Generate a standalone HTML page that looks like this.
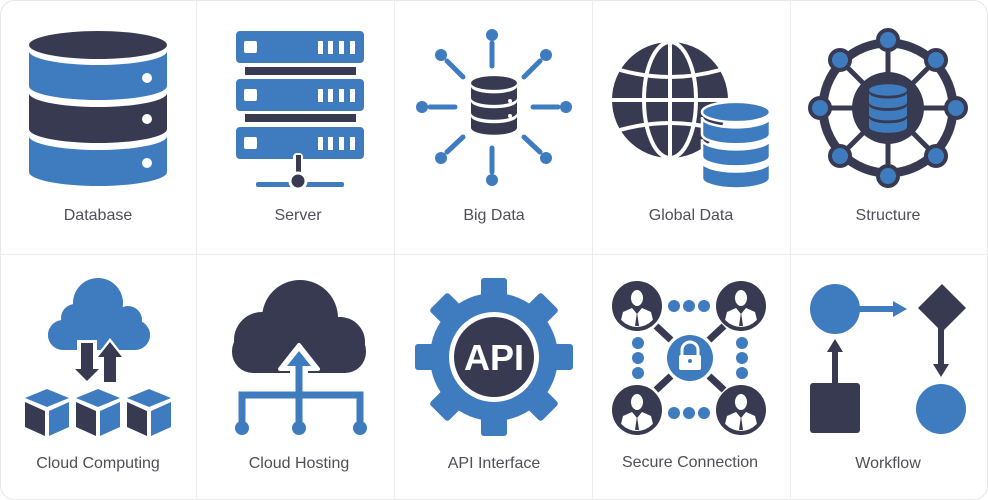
<!DOCTYPE html>
<html><head><meta charset="utf-8"><style>
html,body{margin:0;padding:0;background:#fff;}
svg{display:block;}
text{font-family:"Liberation Sans",sans-serif;font-size:16px;fill:#4f4f5a;text-anchor:middle;}
</style></head><body>
<svg width="988" height="500" viewBox="0 0 988 500" xmlns="http://www.w3.org/2000/svg">
<defs>
<g id="db">
<ellipse cx="0" cy="0" rx="20" ry="6" />
<path d="M-20,3 A20,6 0 0 0 20,3 V13 A20,6 0 0 1 -20,13 Z"/>
<path d="M-20,16 A20,6 0 0 0 20,16 V26 A20,6 0 0 1 -20,26 Z"/>
<path d="M-20,29 A20,6 0 0 0 20,29 V39 A20,6 0 0 1 -20,39 Z"/>
</g>
<g id="person">
<circle r="25" fill="#383a52"/>
<clipPath id="pc"><circle r="21"/></clipPath>
<g clip-path="url(#pc)" fill="#fff">
<ellipse cx="0" cy="-8" rx="6" ry="8"/>
<path d="M-18,22 L-14,6 L-5,2 L0,8 L5,2 L14,6 L18,22 Z"/>
</g>
<path d="M0,6 L-2,20 L2,20 Z" fill="#383a52"/>
</g>
<g id="cube">
<path d="M-22,-13 L0,-22 L22,-13 L0,-4 Z" fill="#3f7cbf"/>
<path d="M-22,-9 L-2,0 L-2,25 L-22,16 Z" fill="#383a52"/>
<path d="M2,0 L22,-9 L22,16 L2,25 Z" fill="#3f7cbf"/>
</g>
</defs>
<rect x="0.5" y="0.5" width="987" height="499" rx="14" fill="#fff" stroke="#e8e8e8"/>
<g stroke="#ececec" stroke-width="1">
<line x1="196.5" y1="0" x2="196.5" y2="500"/><line x1="394.5" y1="0" x2="394.5" y2="500"/>
<line x1="592.5" y1="0" x2="592.5" y2="500"/><line x1="790.5" y1="0" x2="790.5" y2="500"/>
<line x1="0" y1="254.5" x2="988" y2="254.5"/>
</g>

<!-- Database -->
<ellipse cx="98" cy="45" rx="69" ry="14" fill="#383a52"/>
<path d="M29,51 A69,14 0 0 0 167,51 V86 A69,14 0 0 1 29,86 Z" fill="#3f7cbf"/>
<path d="M29,93 A69,14 0 0 0 167,93 V129 A69,14 0 0 1 29,129 Z" fill="#383a52"/>
<path d="M29,136 A69,14 0 0 0 167,136 V172 A69,14 0 0 1 29,172 Z" fill="#3f7cbf"/>
<g fill="#fff"><circle cx="147" cy="78" r="5"/><circle cx="147" cy="119" r="5"/><circle cx="147" cy="163" r="5"/></g>

<!-- Server -->
<g fill="#3f7cbf"><rect x="236" y="31" width="128" height="32" rx="4"/><rect x="236" y="79" width="128" height="32" rx="4"/><rect x="236" y="127" width="128" height="32" rx="4"/></g>
<g fill="#383a52"><rect x="245" y="67" width="111" height="8"/><rect x="245" y="114" width="111" height="8"/></g>
<g fill="#fff">
<rect x="244" y="41" width="13" height="12" rx="2"/><rect x="244" y="89" width="13" height="12" rx="2"/><rect x="244" y="137" width="13" height="12" rx="2"/>
<rect x="318" y="41" width="5" height="13"/><rect x="328" y="41" width="5" height="13"/><rect x="339" y="41" width="5" height="13"/><rect x="350" y="41" width="5" height="13"/>
<rect x="318" y="89" width="5" height="13"/><rect x="328" y="89" width="5" height="13"/><rect x="339" y="89" width="5" height="13"/><rect x="350" y="89" width="5" height="13"/>
<rect x="318" y="137" width="5" height="13"/><rect x="328" y="137" width="5" height="13"/><rect x="339" y="137" width="5" height="13"/><rect x="350" y="137" width="5" height="13"/>
</g>
<rect x="256" y="182" width="88" height="5" rx="2" fill="#3f7cbf"/>
<rect x="293" y="153" width="10" height="30" rx="4" fill="#fff"/>
<rect x="296" y="155" width="5" height="26" fill="#383a52"/>
<circle cx="298" cy="181" r="8" fill="#383a52" stroke="#fff" stroke-width="3"/>

<!-- Big Data -->
<g stroke="#3f7cbf" stroke-width="5" stroke-linecap="round">
<line x1="430" y1="107" x2="455" y2="107"/><line x1="533" y1="107" x2="558" y2="107"/>
<line x1="492" y1="43" x2="492" y2="66"/><line x1="492" y1="148" x2="492" y2="172"/>
<line x1="447" y1="61" x2="463" y2="77"/><line x1="540" y1="61" x2="524" y2="77"/>
<line x1="447" y1="152" x2="463" y2="137"/><line x1="540" y1="152" x2="524" y2="137"/>
</g>
<g fill="#3f7cbf">
<circle cx="422" cy="107" r="6"/><circle cx="566" cy="107" r="6"/><circle cx="492" cy="35" r="6"/><circle cx="492" cy="180" r="6"/>
<circle cx="441" cy="55" r="6"/><circle cx="546" cy="55" r="6"/><circle cx="441" cy="158" r="6"/><circle cx="546" cy="158" r="6"/>
</g>
<g transform="translate(494,83) scale(1.15)" fill="#383a52"><use href="#db"/></g>
<g fill="#fff"><circle cx="510" cy="101" r="2"/><circle cx="510" cy="116" r="2"/></g>

<!-- Global Data -->
<circle cx="670" cy="100" r="58" fill="#383a52"/>
<g stroke="#fff" stroke-width="4" fill="none">
<line x1="612" y1="100" x2="728" y2="100"/><line x1="670" y1="42" x2="670" y2="158"/>
<ellipse cx="670" cy="100" rx="26" ry="58"/>
<path d="M620,70 Q670,84 720,70"/><path d="M620,130 Q670,116 720,130"/>
</g>
<g transform="translate(736,112) scale(1.7)" fill="#3f7cbf" stroke="#fff" stroke-width="1.5"><use href="#db"/></g>

<!-- Structure -->
<circle cx="888" cy="108" r="65" fill="none" stroke="#383a52" stroke-width="9"/>
<g stroke="#383a52" stroke-width="5">
<line x1="818" y1="108" x2="958" y2="108"/><line x1="888" y1="38" x2="888" y2="178"/>
<line x1="839" y1="59" x2="937" y2="157"/><line x1="937" y1="59" x2="839" y2="157"/>
</g>
<circle cx="888" cy="108" r="36" fill="#383a52"/>
<g transform="translate(888,90) scale(0.95)" fill="#3f7cbf"><use href="#db"/></g>
<g fill="#3f7cbf" stroke="#383a52" stroke-width="4">
<circle cx="820" cy="108" r="10"/><circle cx="956" cy="108" r="10"/><circle cx="888" cy="40" r="10"/><circle cx="888" cy="176" r="10"/>
<circle cx="840" cy="60" r="10"/><circle cx="936" cy="60" r="10"/><circle cx="840" cy="156" r="10"/><circle cx="936" cy="156" r="10"/>
</g>

<!-- Cloud Computing -->
<g fill="#3f7cbf">
<circle cx="98" cy="303" r="25"/><circle cx="75" cy="318" r="14"/><circle cx="128" cy="320" r="14"/><circle cx="62" cy="335" r="14"/><circle cx="136" cy="335" r="14"/>
<rect x="48" y="320" width="102" height="30" rx="15"/>
</g>
<path d="M77,340 V366 H69 L87,384 L105,366 H97 V340 Z" fill="#fff"/>
<path d="M81,343 V369 H75 L87,381 L99,369 H93 V343 Z" fill="#383a52"/>
<path d="M101,384 V360 H93 L110,338 L127,360 H119 V384 Z" fill="#fff"/>
<path d="M104,382 V357 H98 L110,342 L122,357 H116 V382 Z" fill="#383a52"/>
<use href="#cube" x="47" y="411"/><use href="#cube" x="98" y="411"/><use href="#cube" x="149" y="411"/>

<!-- Cloud Hosting -->
<g fill="#383a52">
<circle cx="300" cy="318" r="38"/><circle cx="262" cy="340" r="28"/><circle cx="340" cy="342" r="25"/>
<rect x="232" y="330" width="134" height="43" rx="21"/>
</g>
<path d="M280,369 L299,345 L318,369 L306,369 L306,400 L292,400 L292,369 Z" fill="#fff" stroke="#fff" stroke-width="4" stroke-linejoin="round"/>
<g stroke="#3f7cbf" stroke-width="7" fill="none">
<path d="M299,360 V428"/><path d="M242,428 V395 H360 V428"/>
</g>
<path d="M287,366 L299,351 L311,366 Z" fill="#3f7cbf"/>
<g fill="#3f7cbf"><circle cx="242" cy="428" r="7"/><circle cx="299" cy="428" r="7"/><circle cx="360" cy="428" r="7"/></g>

<!-- API -->
<g transform="translate(494,357)">
<circle r="64" fill="#3f7cbf"/>
<g fill="#3f7cbf">
<rect x="-13" y="-79" width="26" height="30" rx="3"/>
<rect x="-13" y="-79" width="26" height="30" rx="3" transform="rotate(45)"/>
<rect x="-13" y="-79" width="26" height="30" rx="3" transform="rotate(90)"/>
<rect x="-13" y="-79" width="26" height="30" rx="3" transform="rotate(135)"/>
<rect x="-13" y="-79" width="26" height="30" rx="3" transform="rotate(180)"/>
<rect x="-13" y="-79" width="26" height="30" rx="3" transform="rotate(225)"/>
<rect x="-13" y="-79" width="26" height="30" rx="3" transform="rotate(270)"/>
<rect x="-13" y="-79" width="26" height="30" rx="3" transform="rotate(315)"/>
</g>
<circle r="45" fill="#fff"/>
<circle r="40" fill="#383a52"/>
<text x="0" y="13" style="font-size:36px;font-weight:bold;fill:#fff;">API</text>
</g>

<!-- Secure Connection -->
<g fill="#3f7cbf">
<circle cx="674" cy="306" r="6"/><circle cx="689" cy="306" r="6"/><circle cx="704" cy="306" r="6"/>
<circle cx="674" cy="413" r="6"/><circle cx="689" cy="413" r="6"/><circle cx="704" cy="413" r="6"/>
<circle cx="638" cy="343" r="6"/><circle cx="638" cy="358" r="6"/><circle cx="638" cy="373" r="6"/>
<circle cx="742" cy="343" r="6"/><circle cx="742" cy="358" r="6"/><circle cx="742" cy="373" r="6"/>
<circle cx="690" cy="358" r="23"/>
</g>
<g stroke="#383a52" stroke-width="7">
<line x1="656" y1="326" x2="671" y2="340"/><line x1="724" y1="326" x2="709" y2="340"/>
<line x1="656" y1="390" x2="671" y2="376"/><line x1="724" y1="390" x2="709" y2="376"/>
</g>
<path d="M682,356 V350 A8,8 0 0 1 698,350 V356" fill="none" stroke="#fff" stroke-width="3"/>
<rect x="679" y="355" width="22" height="15" rx="2" fill="#fff"/>
<circle cx="690" cy="361" r="2" fill="#3f7cbf"/>
<use href="#person" x="637" y="306"/><use href="#person" x="741" y="306"/>
<use href="#person" x="637" y="410"/><use href="#person" x="741" y="410"/>

<!-- Workflow -->
<circle cx="835" cy="309" r="25" fill="#3f7cbf"/>
<rect x="855" y="306" width="40" height="6" fill="#3f7cbf"/>
<path d="M893,301 L907,309 L893,317 Z" fill="#3f7cbf"/>
<path d="M942,284 L966,308 L942,332 L918,308 Z" fill="#383a52"/>
<rect x="938" y="325" width="6" height="40" fill="#383a52"/>
<path d="M933,364 L949,364 L941,377 Z" fill="#383a52"/>
<circle cx="941" cy="409" r="25" fill="#3f7cbf"/>
<rect x="810" y="383" width="50" height="50" rx="3" fill="#383a52"/>
<rect x="832" y="350" width="6" height="35" fill="#383a52"/>
<path d="M827,352 L843,352 L835,339 Z" fill="#383a52"/>

<!-- Labels -->
<text x="98" y="220">Database</text>
<text x="298" y="220">Server</text>
<text x="494" y="220">Big Data</text>
<text x="691" y="220">Global Data</text>
<text x="888" y="220">Structure</text>
<text x="98" y="468">Cloud Computing</text>
<text x="299" y="468">Cloud Hosting</text>
<text x="494" y="468">API Interface</text>
<text x="690" y="467">Secure Connection</text>
<text x="888" y="468">Workflow</text>
</svg>
</body></html>
